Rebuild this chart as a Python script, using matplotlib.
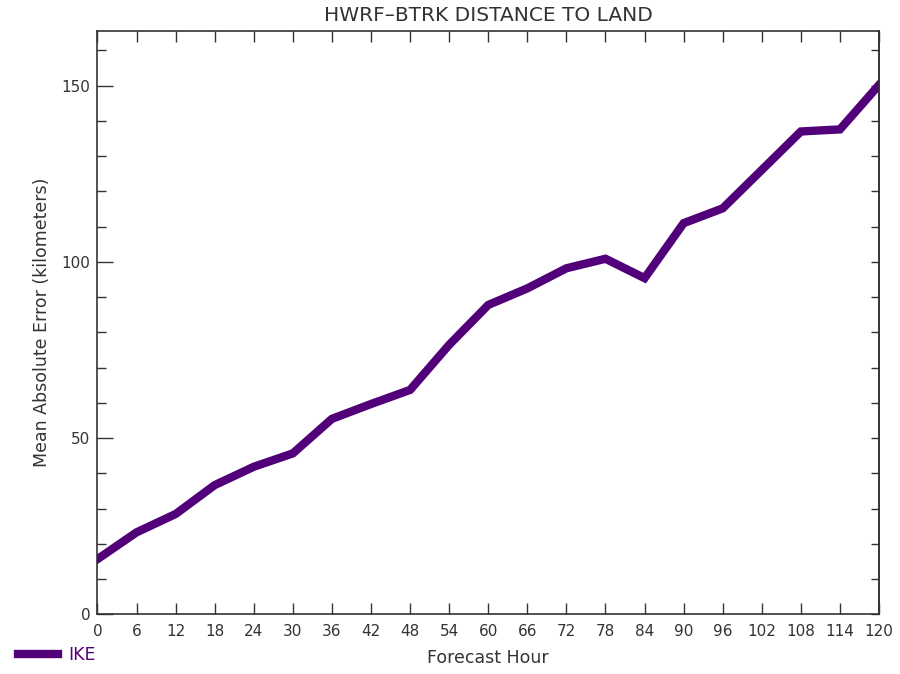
import matplotlib.pyplot as plt
import numpy as np

hours = list(range(0, 121, 6))
ike = [15.7, 23.3, 28.5, 36.7, 41.9, 45.7, 55.5, 59.7, 63.7, 76.5, 87.8,
       92.5, 98.2, 100.9, 95.4, 111.0, 115.2, 126.1, 137.0, 137.6, 150.2]

purple = "#52007a"
ink = "#333333"
plt.rcParams['font.family'] = ['DejaVu Sans']

fig = plt.figure(figsize=(9, 6.74), dpi=100)
ax = fig.add_axes([0.1083, 0.0883, 0.8684, 0.8657])

ax.plot(hours, ike, color=purple, lw=6, solid_joinstyle='miter', label="IKE")

ax.set_xlim(0, 120)
ax.set_ylim(0, 165.5)
ax.set_xticks(hours)
ax.set_yticks([0, 50, 100, 150])
ax.set_yticks(np.arange(0, 166, 10), minor=True)

ax.tick_params(axis='x', direction='in', length=8, width=1, top=True,
               labelsize=11, pad=7, color=ink, labelcolor=ink)
ax.tick_params(axis='y', which='major', direction='in', length=11.5, width=1,
               labelsize=11, pad=5, color=ink, labelcolor=ink)
ax.tick_params(axis='y', which='minor', direction='in', length=6.5, width=1,
               color=ink)

sec = ax.secondary_yaxis('right')
sec.set_yticks(np.arange(0, 166, 10))
sec.tick_params(direction='in', length=6, width=1, labelright=False, color=ink)
sec.spines['right'].set_linewidth(1.2)
sec.spines['right'].set_color(ink)

for s in ax.spines.values():
    s.set_linewidth(1.2)
    s.set_color(ink)

ax.set_title("HWRF\u2013BTRK DISTANCE TO LAND", fontsize=14.5, pad=7, color=ink)
ax.set_xlabel("Forecast Hour", fontsize=12.5, labelpad=7, color=ink)
ax.set_ylabel("Mean Absolute Error (kilometers)", fontsize=12.5, labelpad=8, color=ink)

fig.legend(loc='lower left', bbox_to_anchor=(0.003, -0.008), frameon=False,
           handlelength=2.3, handletextpad=0.6,
           labelcolor=purple, prop={'size': 12.5})

fig.savefig("out.png", dpi=100)
